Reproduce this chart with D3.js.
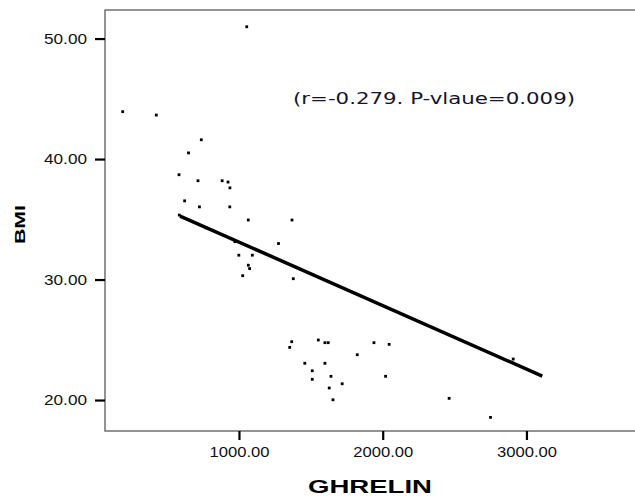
<!DOCTYPE html>
<html>
<head>
<meta charset="utf-8">
<script src="https://cdn.jsdelivr.net/npm/d3@7"></script>
<style>
  body { margin: 0; background: #fff; }
  svg { display: block; }
</style>
</head>
<body>
<div id="chart"></div>
<script>
// values
const ghrelin = [1054, 191, 425, 738, 649, 583, 715, 883, 924, 937, 622, 725, 936, 1065, 1369,
  1275, 999, 1093, 1065, 1074, 1026, 1378, 1367, 1353, 1458, 1510, 1510, 1552, 1598, 1621,
  1939, 2045, 1823, 1598, 1640, 1718, 1628, 1654, 2020, 2462, 2750, 2908, 771, 972, 585];
const bmi = [50.98, 43.93, 43.65, 41.60, 40.51, 38.70, 38.20, 38.20, 38.09, 37.61, 36.53, 36.03,
  36.03, 34.94, 34.94, 32.99, 32.02, 32.02, 31.19, 30.91, 30.32, 30.07, 24.84, 24.37, 23.05,
  22.43, 21.72, 24.98, 24.76, 24.76, 24.76, 24.62, 23.76, 23.05, 21.97, 21.35, 21.00, 20.02,
  21.97, 20.14, 18.56, 23.40, 34.30, 33.14, 35.35];
const fitX = [590, 3110];
const fitY = [35.27, 21.99];
const xTicks = [1000, 2000, 3000];
const yTicks = [20, 30, 40, 50];
const note = '(r=-0.279. P-vlaue=0.009)';

const width = 635;
const height = 498;
const margin = { top: 10, right: -5, bottom: 67, left: 105 };

const svg = d3.select('#chart')
  .append('svg')
  .attr('width', width)
  .attr('height', height);

const x = d3.scaleLinear()
  .domain([68, 3790])
  .range([margin.left, width - margin.right]);
const y = d3.scaleLinear()
  .domain([17.43, 52.37])
  .range([height - margin.bottom, margin.top]);

// frame
svg.append('rect')
  .attr('x', margin.left)
  .attr('y', margin.top)
  .attr('width', width - margin.right - margin.left)
  .attr('height', height - margin.bottom - margin.top)
  .attr('fill', 'none')
  .attr('stroke', '#666')
  .attr('stroke-width', 1.4);

const fmt = d3.format('.2f');

const xAxis = svg.append('g')
  .attr('transform', `translate(0,${height - margin.bottom})`)
  .call(d3.axisBottom(x).tickValues(xTicks).tickFormat(fmt).tickSizeInner(9).tickSizeOuter(0).tickPadding(7));
xAxis.select('.domain').remove();
xAxis.selectAll('line').attr('stroke', '#000').attr('stroke-width', 2.2);
xAxis.selectAll('text')
  .attr('font-family', 'Liberation Sans, Arial, sans-serif')
  .attr('font-size', 14)
  .attr('fill', '#111')
  .attr('textLength', 60)
  .attr('lengthAdjust', 'spacingAndGlyphs');

const yAxis = svg.append('g')
  .attr('transform', `translate(${margin.left},0)`)
  .call(d3.axisLeft(y).tickValues(yTicks).tickFormat(fmt).tickSizeInner(10).tickSizeOuter(0).tickPadding(8));
yAxis.select('.domain').remove();
yAxis.selectAll('line').attr('stroke', '#000').attr('stroke-width', 2.2);
yAxis.selectAll('text')
  .attr('font-family', 'Liberation Sans, Arial, sans-serif')
  .attr('font-size', 14)
  .attr('fill', '#111')
  .attr('textLength', 43)
  .attr('lengthAdjust', 'spacingAndGlyphs');

// fit line
svg.append('line')
  .attr('x1', x(fitX[0]))
  .attr('y1', y(fitY[0]))
  .attr('x2', x(fitX[1]))
  .attr('y2', y(fitY[1]))
  .attr('stroke', '#000')
  .attr('stroke-width', 3.5);

// points
svg.selectAll('.dot')
  .data(d3.range(ghrelin.length))
  .enter().append('rect')
  .attr('class', 'dot')
  .attr('x', i => x(ghrelin[i]) - 1.4)
  .attr('y', i => y(bmi[i]) - 1.4)
  .attr('width', 2.8)
  .attr('height', 2.8)
  .attr('fill', '#000');

// axis titles
svg.append('text')
  .attr('x', 370)
  .attr('y', 493)
  .attr('text-anchor', 'middle')
  .attr('font-family', 'Liberation Sans, Arial, sans-serif')
  .attr('font-weight', 'bold')
  .attr('font-size', 18)
  .attr('textLength', 124)
  .attr('lengthAdjust', 'spacingAndGlyphs')
  .text('GHRELIN');

svg.append('text')
  .attr('transform', 'translate(25,224.5) rotate(-90)')
  .attr('text-anchor', 'middle')
  .attr('font-family', 'Liberation Sans, Arial, sans-serif')
  .attr('font-weight', 'bold')
  .attr('font-size', 14)
  .attr('textLength', 39)
  .attr('lengthAdjust', 'spacingAndGlyphs')
  .text('BMI');

// correlation note
svg.append('text')
  .attr('x', 293)
  .attr('y', 104)
  .attr('font-family', 'DejaVu Sans, Verdana, sans-serif')
  .attr('font-size', 15.5)
  .attr('fill', '#14142e')
  .attr('textLength', 282)
  .attr('lengthAdjust', 'spacingAndGlyphs')
  .text(note);
</script>
</body>
</html>
